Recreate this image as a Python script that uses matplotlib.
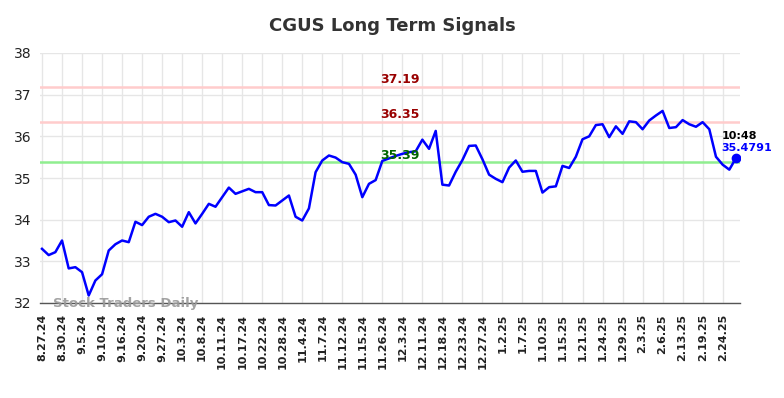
import matplotlib
matplotlib.use("Agg")
import matplotlib.pyplot as plt

title = "CGUS Long Term Signals"
tick_labels = ["8.27.24", "8.30.24", "9.5.24", "9.10.24", "9.16.24", "9.20.24", "9.27.24",
               "10.3.24", "10.8.24", "10.11.24", "10.17.24", "10.22.24", "10.28.24",
               "11.4.24", "11.7.24", "11.12.24", "11.15.24", "11.26.24", "12.3.24",
               "12.11.24", "12.18.24", "12.23.24", "12.27.24", "1.2.25", "1.7.25",
               "1.10.25", "1.15.25", "1.21.25", "1.24.25", "1.29.25", "2.3.25",
               "2.6.25", "2.13.25", "2.19.25", "2.24.25"]
tick_step = 3

prices = [33.30, 33.15, 33.22, 33.50, 32.83, 32.86, 32.74, 32.18, 32.54, 32.69,
          33.26, 33.41, 33.50, 33.46, 33.95, 33.87, 34.07, 34.14, 34.07, 33.94,
          33.98, 33.83, 34.18, 33.91, 34.14, 34.38, 34.31, 34.54, 34.77, 34.62,
          34.68, 34.74, 34.66, 34.66, 34.35, 34.34, 34.46, 34.58, 34.07, 33.98,
          34.27, 35.14, 35.42, 35.54, 35.49, 35.38, 35.34, 35.08, 34.54, 34.86,
          34.95, 35.41, 35.47, 35.53, 35.58, 35.62, 35.64, 35.92, 35.70, 36.13,
          34.84, 34.82, 35.15, 35.43, 35.77, 35.78, 35.45, 35.08, 34.98, 34.90,
          35.25, 35.42, 35.15, 35.17, 35.17, 34.65, 34.78, 34.80, 35.29, 35.24,
          35.51, 35.93, 36.00, 36.27, 36.29, 35.98, 36.24, 36.06, 36.36, 36.34,
          36.17, 36.38, 36.50, 36.61, 36.20, 36.22, 36.39, 36.29, 36.23, 36.34,
          36.17, 35.51, 35.32, 35.20, 35.4791]

resistance_levels = [37.19, 36.35]
support_levels = [35.39]
last_time = "10:48"
last_price_label = "35.4791"
y_ticks = [32, 33, 34, 35, 36, 37, 38]

fig = plt.figure(figsize=(7.84, 3.98), dpi=100)
ax = fig.add_axes([40 / 784, 1 - 303 / 398, 700 / 784, 250 / 398])

x = list(range(len(prices)))
ax.plot(x, prices, color="#0000ff", lw=1.8, zorder=3)
ax.plot(x[-1], prices[-1], "o", color="#0000ff", ms=6, zorder=4)

label_x = 53.6
for lv in resistance_levels:
    ax.axhline(lv, color="#ffcccc", lw=1.8, zorder=2)
    ax.text(label_x, lv + 0.18, f"{lv:.2f}", color="#990000", fontsize=9,
            fontweight="bold", ha="center", va="center", zorder=5)
for lv in support_levels:
    ax.axhline(lv, color="#90ee90", lw=1.8, zorder=2)
    ax.text(label_x, lv + 0.16, f"{lv:.2f}", color="#006400", fontsize=9,
            fontweight="bold", ha="center", va="center", zorder=5)

ax.text(101.8, prices[-1] + 0.535, last_time, color="black", fontsize=8,
        fontweight="bold", ha="left", va="center", zorder=5)
ax.text(101.8, prices[-1] + 0.23, last_price_label, color="#0000ff", fontsize=8,
        fontweight="bold", ha="left", va="center", zorder=5)

ax.text(0.018, 0.0, "Stock Traders Daily", transform=ax.transAxes, color="#999999",
        fontsize=9.5, fontweight="bold", ha="left", va="center", alpha=0.9, zorder=6)

ax.set_xlim(-0.3, 104.6)
ax.set_ylim(32, 38)
ax.set_yticks(y_ticks)
ax.set_yticklabels([str(t) for t in y_ticks], fontsize=10, color="#222222")
tick_pos = [i * tick_step for i in range(len(tick_labels))]
ax.set_xticks(tick_pos)
ax.set_xticklabels(tick_labels, rotation=90, fontsize=8, fontweight="bold", color="#222222")
ax.tick_params(axis="both", length=0, pad=6)
ax.tick_params(axis="x", pad=8)
ax.grid(True, color="#e6e6e6", lw=1)
ax.set_axisbelow(True)
for s in ["top", "right", "left"]:
    ax.spines[s].set_visible(False)
ax.spines["bottom"].set_color("#555555")
ax.spines["bottom"].set_linewidth(1)

fig.text(0.5, 1 - 26 / 398, title, ha="center", va="center", fontsize=13,
         fontweight="bold", color="#333333")

fig.savefig("out.png", dpi=100)
